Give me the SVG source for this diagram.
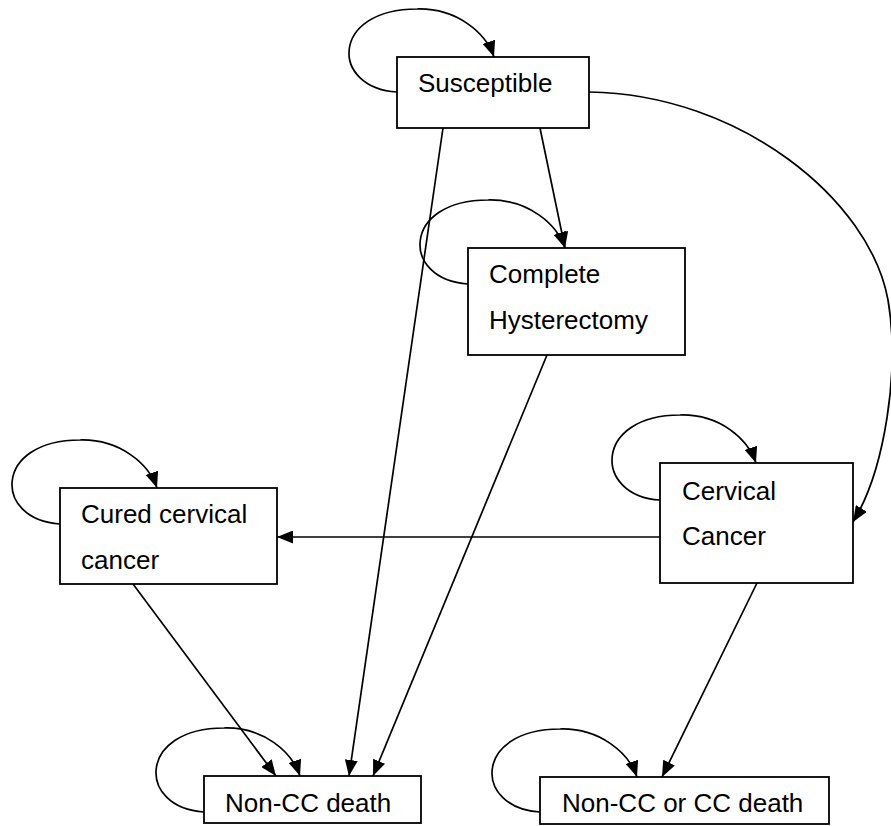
<svg xmlns="http://www.w3.org/2000/svg" width="891" height="826" viewBox="0 0 891 826">
<style>
.box{fill:#fff;stroke:#000;stroke-width:1.8}
.lbl{font-family:"Liberation Sans",Arial,sans-serif;font-size:26px;fill:#000}
.c{fill:none;stroke:#000;stroke-width:1.7;marker-end:url(#ah)}
</style>
<defs>
<marker id="ah" markerUnits="userSpaceOnUse" markerWidth="16" markerHeight="13" refX="16" refY="6.5" orient="auto">
<path d="M0,0 L16,6.5 L0,13 z" fill="#000"/>
</marker>
</defs>
<g id="connectors">
<path class="c" d="M397,92 C330,88 330,9 417,9 C457,8 486,33 494,57"/>
<path class="c" d="M468,284 C401,280 401,200 488,200 C528,199 557,224 565,248"/>
<path class="c" d="M60,524 C-7,520 -7,440 80,440 C120,439 149,464 157,488"/>
<path class="c" d="M660,500 C593,496 593,415 680,415 C720,414 748,439 756,463"/>
<path class="c" d="M204,812 C137,808 137,728 224,728 C264,727 292,752 300,776"/>
<path class="c" d="M540,812 C473,808 473,729 560,729 C600,728 629,753 637,777"/>
<path class="c" d="M589,92 C740,94 870,200 888,300 C900,370 885,470 853,522"/>
<path class="c" d="M540,128 L565,248"/>
<path class="c" d="M443,128 L349,776"/>
<path class="c" d="M547,355 L373,776"/>
<path class="c" d="M133,584 L276,776"/>
<path class="c" d="M660,537 L277,537"/>
<path class="c" d="M757,583 L662,777"/>
</g>
<g id="susceptible">
<rect class="box" x="397" y="57" width="192" height="71"/>
<text class="lbl" x="418" y="92">Susceptible</text>
</g>
<g id="hysterectomy">
<rect class="box" x="468" y="248" width="217" height="107"/>
<text class="lbl" x="489" y="283">Complete</text>
<text class="lbl" x="489" y="329">Hysterectomy</text>
</g>
<g id="cured">
<rect class="box" x="60" y="488" width="217" height="96"/>
<text class="lbl" x="81" y="523">Cured cervical</text>
<text class="lbl" x="81" y="569">cancer</text>
</g>
<g id="cervical">
<rect class="box" x="660" y="463" width="193" height="120"/>
<text class="lbl" x="682" y="500">Cervical</text>
<text class="lbl" x="682" y="545">Cancer</text>
</g>
<g id="noncc">
<rect class="box" x="204" y="776" width="217" height="47"/>
<text class="lbl" x="225" y="812">Non-CC death</text>
</g>
<g id="nonccorcc">
<rect class="box" x="540" y="777" width="289" height="47"/>
<text class="lbl" x="562" y="812">Non-CC or CC death</text>
</g>
</svg>
